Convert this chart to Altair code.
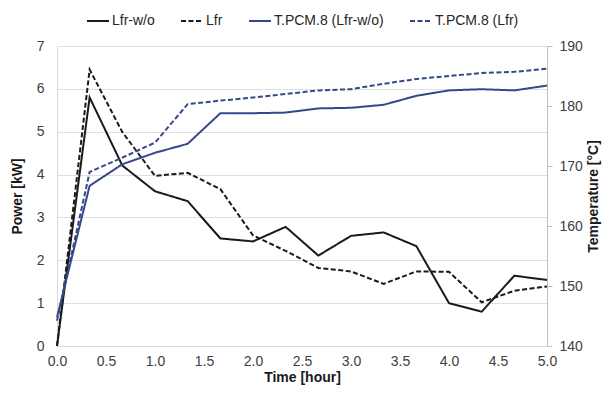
import altair as alt
import pandas as pd

hours = [0, 0.333, 0.667, 1.0, 1.333, 1.667, 2.0, 2.333, 2.667, 3.0, 3.333, 3.667, 4.0, 4.333, 4.667, 5.0]
power_lfr_wo = [0.0, 5.80, 4.21, 3.61, 3.38, 2.51, 2.44, 2.78, 2.11, 2.57, 2.65, 2.33, 1.00, 0.80, 1.64, 1.54]
power_lfr = [0.0, 6.45, 4.99, 3.97, 4.04, 3.66, 2.58, 2.22, 1.82, 1.74, 1.45, 1.74, 1.73, 1.02, 1.29, 1.39]
temp_lfr_wo = [144.8, 166.7, 170.3, 172.2, 173.7, 178.8, 178.8, 178.9, 179.6, 179.7, 180.2, 181.7, 182.6, 182.8, 182.6, 183.4]
temp_lfr = [144.2, 169.0, 171.4, 173.9, 180.3, 180.9, 181.4, 182.0, 182.6, 182.8, 183.7, 184.5, 185.0, 185.5, 185.7, 186.2]

series = ["Lfr-w/o", "Lfr", "T.PCM.8 (Lfr-w/o)", "T.PCM.8 (Lfr)"]
colors = ["#1a1a1a", "#1a1a1a", "#34498a", "#34498a"]
dashes = [[1, 0], [5, 2.5], [1, 0], [5, 2.5]]
x_ticks = [0, 0.5, 1.0, 1.5, 2.0, 2.5, 3.0, 3.5, 4.0, 4.5, 5.0]

df_p = pd.DataFrame({
    "hours": hours * 2,
    "value": power_lfr_wo + power_lfr,
    "series": [series[0]] * len(hours) + [series[1]] * len(hours),
})
df_t = pd.DataFrame({
    "hours": hours * 2,
    "value": temp_lfr_wo + temp_lfr,
    "series": [series[2]] * len(hours) + [series[3]] * len(hours),
})

FONT = "Liberation Sans"

leg = alt.Legend(
    title=None, orient="none", direction="horizontal", legendX=29, legendY=-37,
    symbolType="stroke", symbolSize=484, symbolStrokeWidth=2, labelOffset=2,
    columnPadding=22, labelFontSize=14, labelFont=FONT, labelColor="#262626",
)
color = alt.Color("series:N", scale=alt.Scale(domain=series, range=colors), legend=leg)
dash = alt.StrokeDash("series:N", scale=alt.Scale(domain=series, range=dashes), legend=leg)

x_enc = alt.X(
    "hours:Q",
    scale=alt.Scale(domain=[0, 5], nice=False),
    axis=alt.Axis(
        title="Time [hour]", values=x_ticks, format=".1f", grid=False, ticks=False,
        labelPadding=8, titlePadding=2, domainColor="#d9d9d9",
        labelFontSize=14, titleFontSize=14, labelFont=FONT, titleFont=FONT,
        labelColor="#404040", titleColor="#1a1a1a", labelFlush=False,
    ),
)

power = alt.Chart(df_p).mark_line(strokeWidth=2).encode(
    x=x_enc,
    y=alt.Y(
        "value:Q",
        scale=alt.Scale(domain=[0, 7], nice=False),
        axis=alt.Axis(
            title="Power [kW]", values=list(range(8)), grid=True, gridColor="#e0e0e0",
            ticks=False, labelPadding=13, titlePadding=12, domainColor="#d9d9d9",
            labelFontSize=14, titleFontSize=14, labelFont=FONT, titleFont=FONT,
            labelColor="#404040", titleColor="#1a1a1a",
        ),
    ),
    color=color,
    strokeDash=dash,
)

temp = alt.Chart(df_t).mark_line(strokeWidth=2).encode(
    x=x_enc,
    y=alt.Y(
        "value:Q",
        scale=alt.Scale(domain=[140, 190], nice=False),
        axis=alt.Axis(
            title="Temperature [°C]", orient="right", values=[140, 150, 160, 170, 180, 190],
            grid=False, tickSize=5, tickColor="#bfbfbf", domainColor="#bfbfbf",
            labelPadding=7, titlePadding=4, titleAngle=270, titleBaseline="top",
            labelFontSize=14, titleFontSize=14, labelFont=FONT, titleFont=FONT,
            labelColor="#404040", titleColor="#1a1a1a",
        ),
    ),
    color=color,
    strokeDash=dash,
)

chart = alt.layer(power, temp).resolve_scale(y="independent").properties(
    width=490, height=300,
    autosize=alt.AutoSizeParams(type="none"),
    padding={"left": 49, "top": 38, "right": 55, "bottom": 40},
    background="white",
).configure_view(stroke=None)

chart.save("out.html", embed_options={"renderer": "svg", "actions": False})
